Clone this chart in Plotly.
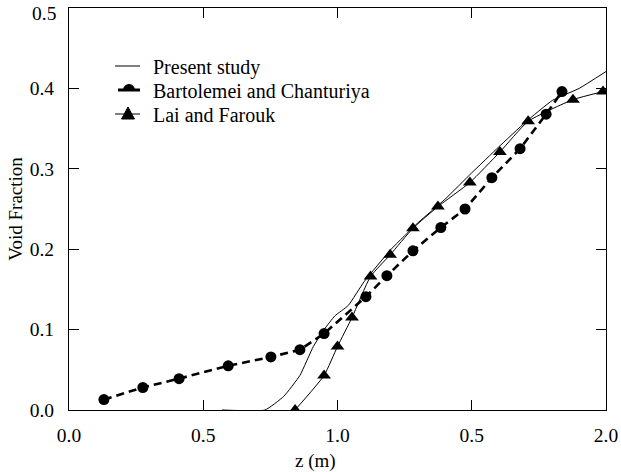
import math
import plotly.graph_objects as go

# Present study (solid thin line)
present_x = [0.57, 0.73, 0.80, 0.86, 0.91, 0.95, 0.99, 1.04, 1.10, 1.20, 1.30, 1.40, 1.50, 1.60, 1.70, 1.80, 1.90, 2.0]
present_y = [0.0, 0.0, 0.017, 0.043, 0.079, 0.10, 0.117, 0.13, 0.16, 0.20, 0.233, 0.262, 0.295, 0.327, 0.358, 0.385, 0.400, 0.421]

# Bartolemei and Chanturiya (dashed with circles)
bart_x = [0.13, 0.275, 0.41, 0.593, 0.752, 0.86, 0.95, 1.106, 1.184, 1.281, 1.385, 1.475, 1.575, 1.68, 1.777, 1.836]
bart_y = [0.013, 0.028, 0.039, 0.055, 0.066, 0.075, 0.095, 0.141, 0.167, 0.198, 0.227, 0.250, 0.289, 0.325, 0.368, 0.396]

# Lai and Farouk (thin line with triangles)
lai_x = [0.842, 0.95, 1.0, 1.054, 1.123, 1.196, 1.281, 1.374, 1.493, 1.605, 1.71, 1.877, 1.989]
lai_y = [0.0, 0.043, 0.079, 0.115, 0.166, 0.193, 0.226, 0.253, 0.283, 0.321, 0.359, 0.386, 0.396]

series_names = ["Present study", "Bartolemei and Chanturiya", "Lai and Farouk"]

x_tickvals = [0.0, 0.5, 1.0, 1.5, 2.0]
x_ticktext = ["0.0", "0.5", "1.0", "0.5", "2.0"]
y_tickvals = [0.0, 0.1, 0.2, 0.3, 0.4, 0.5]
y_ticktext = ["0.0", "0.1", "0.2", "0.3", "0.4", "0.5"]

FONT = "Liberation Serif, Times New Roman, serif"
W, H = 621, 472
ML, MR, MT, MB = 69, 15, 8, 62
PW, PH = W - ML - MR, H - MT - MB
TICK_SIZE = 19.5


def px(xp):
    return (xp - ML) / PW


def py(yp):
    return (H - MB - yp) / PH


fig = go.Figure()
fig.add_trace(go.Scatter(
    x=present_x, y=present_y, mode="lines", name=series_names[0],
    line=dict(color="black", width=1, shape="spline", smoothing=0.4),
))
fig.add_trace(go.Scatter(
    x=bart_x, y=bart_y, mode="lines+markers", name=series_names[1],
    line=dict(color="black", width=2.6, dash="8px,5px"),
    marker=dict(symbol="circle", size=11, color="black"),
))
fig.add_trace(go.Scatter(
    x=lai_x, y=lai_y, mode="lines+markers", name=series_names[2],
    line=dict(color="black", width=1, shape="spline", smoothing=0.5),
    marker=dict(symbol="triangle-up", size=12, color="black"),
))

axis_common = dict(
    showgrid=False, zeroline=False, showline=True, linecolor="black", linewidth=1,
    mirror="ticks", ticks="inside", ticklen=10, tickcolor="black", tickwidth=1,
    tickfont=dict(family=FONT, size=TICK_SIZE, color="black"),
    ticklabeloverflow="allow", automargin=False,
)

fig.update_xaxes(
    range=[0, 2.0], tickmode="array", tickvals=x_tickvals, ticktext=x_ticktext,
    ticklabelstandoff=8, **axis_common,
)
# top label (at the very edge of the page) is placed as an annotation just below its tick
fig.update_yaxes(
    range=[0, 0.5], tickmode="array", tickvals=y_tickvals,
    ticktext=y_ticktext[:-1] + [""],
    title=dict(text="Void Fraction", font=dict(family=FONT, size=19, color="black"), standoff=2),
    ticklabelstandoff=10, **axis_common,
)

shapes = []
annotations = []

annotations.append(dict(
    x=px(ML - 11), y=y_tickvals[-1], xref="paper", yref="y", text=y_ticktext[-1],
    showarrow=False, xanchor="right", yanchor="middle", yshift=-5,
    font=dict(family=FONT, size=TICK_SIZE, color="black"),
))

# x-axis title (placed slightly left of centre as in the reference)
annotations.append(dict(
    x=px(315), y=py(461), xref="paper", yref="paper", text="z (m)",
    showarrow=False, xanchor="center", yanchor="middle",
    font=dict(family=FONT, size=19, color="black"),
))

# Manual legend (compact spacing as in the reference)
leg_rows = [66, 90, 114]
for name, yrow in zip(series_names, leg_rows):
    annotations.append(dict(
        x=px(151), y=py(yrow + 1), xref="paper", yref="paper", text=name,
        showarrow=False, xanchor="left", yanchor="middle",
        font=dict(family=FONT, size=20, color="black"),
    ))
# Present study sample
shapes.append(dict(type="line", xref="paper", yref="paper",
                   x0=px(115), x1=px(140), y0=py(leg_rows[0]), y1=py(leg_rows[0]),
                   line=dict(color="black", width=1)))
# Bartolemei sample: thick line with half circle
shapes.append(dict(type="line", xref="paper", yref="paper",
                   x0=px(118), x1=px(140), y0=py(leg_rows[1]), y1=py(leg_rows[1]),
                   line=dict(color="black", width=3)))
cx, cy, r = 129, leg_rows[1], 5.5
pts = [(cx + r * math.cos(math.pi * k / 12), cy - r * math.sin(math.pi * k / 12)) for k in range(13)]
path = "M " + " L ".join(f"{px(a):.5f},{py(b):.5f}" for a, b in pts) + " Z"
shapes.append(dict(type="path", xref="paper", yref="paper", path=path,
                   fillcolor="black", line=dict(color="black", width=1)))
# Lai sample: line with triangle
shapes.append(dict(type="line", xref="paper", yref="paper",
                   x0=px(115), x1=px(140), y0=py(leg_rows[2]), y1=py(leg_rows[2]),
                   line=dict(color="black", width=1)))
tri = [(121.5, leg_rows[2] + 5), (134.5, leg_rows[2] + 5), (128, leg_rows[2] - 7)]
path = "M " + " L ".join(f"{px(a):.5f},{py(b):.5f}" for a, b in tri) + " Z"
shapes.append(dict(type="path", xref="paper", yref="paper", path=path,
                   fillcolor="black", line=dict(color="black", width=1)))

fig.update_layout(
    width=W, height=H,
    margin=dict(l=ML, r=MR, t=MT, b=MB, autoexpand=False),
    paper_bgcolor="white", plot_bgcolor="white",
    font=dict(family=FONT, size=18, color="black"),
    showlegend=False,
    shapes=shapes,
    annotations=annotations,
)

fig.write_html("out.html")
